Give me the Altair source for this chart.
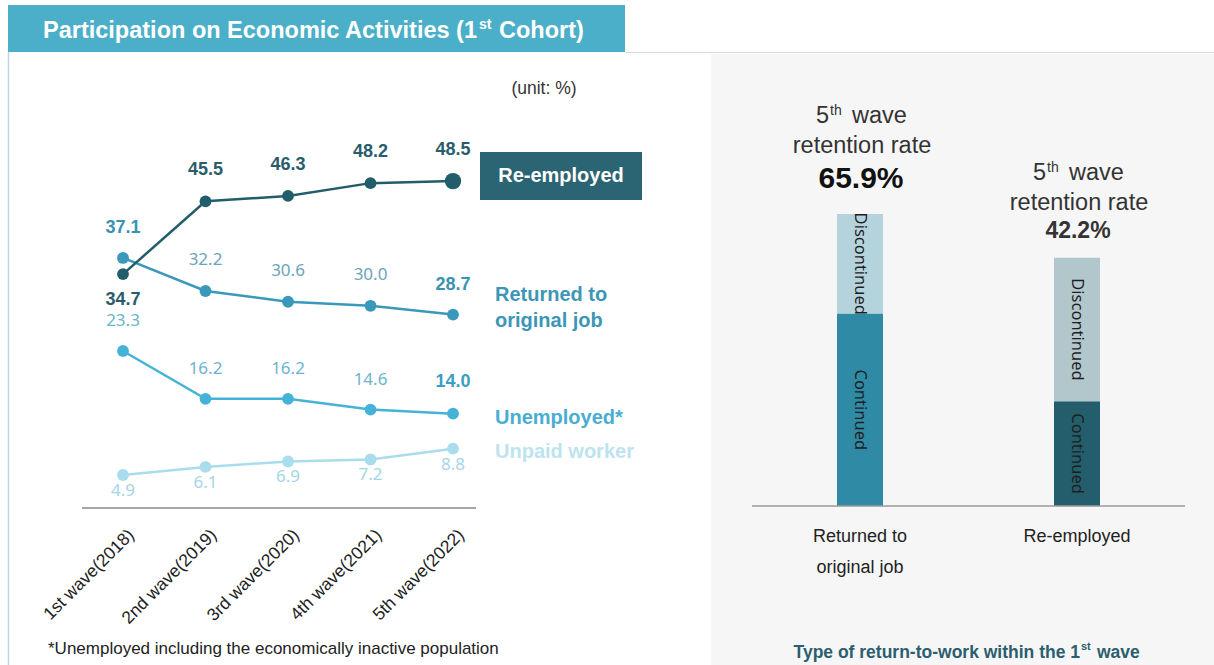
import altair as alt
import pandas as pd

# ---------------- data ----------------
waves = ["1st wave(2018)", "2nd wave(2019)", "3rd wave(2020)", "4th wave(2021)", "5th wave(2022)"]
re_employed = [34.7, 45.5, 46.3, 48.2, 48.5]
returned = [37.1, 32.2, 30.6, 30.0, 28.7]
unemployed = [23.3, 16.2, 16.2, 14.6, 14.0]
unpaid = [4.9, 6.1, 6.9, 7.2, 8.8]

bar_cats = ["Returned to original job", "Re-employed"]
bar_cat_lines = [["Returned to", "original job"], ["Re-employed"]]
continued = [65.9, 35.9]
discontinued = [34.1, 49.1]
retention = ["65.9%", "42.2%"]

# ---------------- tables ----------------
series_names = ["Re-employed", "Returned to original job", "Unemployed*", "Unpaid worker"]
series_vals = [re_employed, returned, unemployed, unpaid]
rows = []
for name, vals in zip(series_names, series_vals):
    for w, v in zip(waves, vals):
        rows.append({"series": name, "wave": w, "value": v})
df_line = pd.DataFrame(rows)

brows = []
for c, cv, dv in zip(bar_cats, continued, discontinued):
    brows.append({"cat": c, "status": "Continued", "value": cv, "ord": 0})
    brows.append({"cat": c, "status": "Discontinued", "value": dv, "ord": 1})
df_bar = pd.DataFrame(brows)
df_cats = pd.DataFrame({"cat": bar_cats, "rate": retention})
df_waves = pd.DataFrame({"wave": waves})
one = pd.DataFrame({"z": [0]})

ARIAL = "Liberation Sans, Arial, sans-serif"
UI = "Noto Sans, Open Sans, sans-serif"


def rect(x, x2, y, y2, color):
    return alt.Chart(one).mark_rect(color=color).encode(
        x=alt.value(x), x2=alt.value(x2), y=alt.value(y), y2=alt.value(y2))


def txt(text, x, y, **kw):
    return alt.Chart(one).mark_text(text=text, **kw).encode(x=alt.value(x), y=alt.value(y))


# ---------------- decorations ----------------
decor = [
    rect(711, 1214, 54, 665, "#F6F6F6"),
    rect(8, 625, 5, 52, "#4BAFC9"),
    alt.Chart(one).mark_rule(color="#D9D9D9", strokeWidth=1).encode(
        x=alt.value(625), x2=alt.value(1214), y=alt.value(52.5)),
    alt.Chart(one).mark_rule(color="#BCD9E3", strokeWidth=1.5).encode(
        x=alt.value(8.5), y=alt.value(52), y2=alt.value(665)),
    txt("Participation on Economic Activities (1", 477, 38, align="right", baseline="alphabetic",
        font=ARIAL, fontSize=23.5, fontWeight="bold", color="white"),
    txt("st", 479, 29, align="left", baseline="alphabetic",
        font=ARIAL, fontSize=14, fontWeight="bold", color="white"),
    txt("Cohort)", 499, 38, align="left", baseline="alphabetic",
        font=ARIAL, fontSize=23.5, fontWeight="bold", color="white"),
    txt("(unit: %)", 544, 94, align="center", baseline="alphabetic",
        font=ARIAL, fontSize=17.5, color="#333333"),
    txt("*Unemployed including the economically inactive population", 48, 654, align="left",
        baseline="alphabetic", font=ARIAL, fontSize=17, color="#222222"),
    rect(480, 642, 152, 200, "#2B6472"),
    txt("Re-employed", 561, 176, align="center", baseline="middle",
        font=ARIAL, fontSize=20, fontWeight="bold", color="white"),
    txt("Type of return-to-work within the 1", 1080, 658, align="right", baseline="alphabetic",
        font=ARIAL, fontSize=17.5, fontWeight="bold", color="#2B5E6E"),
    txt("st", 1081, 650, align="left", baseline="alphabetic",
        font=ARIAL, fontSize=11, fontWeight="bold", color="#2B5E6E"),
    txt("wave", 1097, 658, align="left", baseline="alphabetic",
        font=ARIAL, fontSize=17.5, fontWeight="bold", color="#2B5E6E"),
]

# ---------------- line chart ----------------
XL = alt.Scale(type="point", domain=waves, range=[123, 453], padding=0)
YL = alt.Scale(domain=[0, 50], range=[508, 171], nice=False, zero=False)


def xl():
    return alt.X("wave:N", scale=XL, axis=None)


def yl():
    return alt.Y("value:Q", scale=YL, axis=None)


first = alt.FieldEqualPredicate(field="wave", equal=waves[0])
last = alt.FieldEqualPredicate(field="wave", equal=waves[-1])
middle = alt.FieldOneOfPredicate(field="wave", oneOf=waves[1:-1])
not_first = alt.FieldOneOfPredicate(field="wave", oneOf=waves[1:])
not_last = alt.FieldOneOfPredicate(field="wave", oneOf=waves[:-1])
first_last = alt.FieldOneOfPredicate(field="wave", oneOf=[waves[0], waves[-1]])
all_w = alt.FieldOneOfPredicate(field="wave", oneOf=waves)

styles = {
    "Re-employed": dict(c="#225D6B", bold="#2A5D6B", reg="#2A5D6B",
                        labels=[(first, 26, True), (not_first, -31, True)]),
    "Returned to original job": dict(c="#3A98BA", bold="#3893B2", reg="#6CA4BA",
                                     labels=[(first_last, -30, True), (middle, -31, False)]),
    "Unemployed*": dict(c="#45B3D7", bold="#3C9EC1", reg="#6CB4CD",
                        labels=[(not_last, -30, False), (last, -32, True)]),
    "Unpaid worker": dict(c="#A9DDEE", bold="#A5D6E6", reg="#A5D6E6",
                          labels=[(all_w, 16, False)]),
}

line_layers = [
    alt.Chart(one).mark_rule(color="#8A8A8A", strokeWidth=1.5).encode(
        y=alt.Y("z:Q", scale=YL, axis=None), x=alt.value(82), x2=alt.value(476)),
    alt.Chart(df_waves).mark_text(angle=315, align="right", baseline="middle", dx=12,
                                  font=ARIAL, fontSize=17.5, color="#222222").encode(
        x=xl(), y=alt.value(541), text="wave:N"),
]

for s in series_names[::-1]:
    st = styles[s]
    base = alt.Chart(df_line).transform_filter(alt.datum.series == s)
    line_layers.append(base.mark_line(color=st["c"], strokeWidth=2.5).encode(x=xl(), y=yl()))
    line_layers.append(base.mark_circle(color=st["c"], size=140, opacity=1).encode(x=xl(), y=yl()))
    for pred, dy, is_bold in st["labels"]:
        line_layers.append(
            base.transform_filter(pred).mark_text(
                dy=dy, baseline="middle", align="center",
                font=ARIAL if is_bold else UI, fontSize=18 if is_bold else 17,
                fontWeight="bold" if is_bold else "normal",
                color=st["bold"] if is_bold else st["reg"]).encode(
                x=xl(), y=yl(), text=alt.Text("value:Q", format=".1f")))

# bigger last point of Re-employed
line_layers.append(
    alt.Chart(df_line).transform_filter(alt.datum.series == "Re-employed").transform_filter(last)
    .mark_circle(color=styles["Re-employed"]["c"], size=270, opacity=1).encode(x=xl(), y=yl()))

# series labels at the right end
end_labels = [
    ("Returned to original job", ["Returned to", "original job"], -20, "#3C96B6"),
    ("Unemployed*", "Unemployed*", 4, "#48AED0"),
    ("Unpaid worker", "Unpaid worker", 3, "#BDE3EF"),
]
for s, label, dy, col in end_labels:
    line_layers.append(
        alt.Chart(df_line).transform_filter(alt.datum.series == s).transform_filter(last)
        .mark_text(text=label, align="left", baseline="middle", dx=42, dy=dy, lineHeight=26,
                   font=ARIAL, fontSize=20, fontWeight="bold", color=col)
        .encode(x=xl(), y=yl()))

line_group = alt.layer(*line_layers)

# ---------------- bar chart ----------------
XB = alt.Scale(type="point", domain=bar_cats, range=[860, 1077], padding=0)
YB = alt.Scale(domain=[0, 100], range=[506, 214], nice=False)
color_keys = [f"{bar_cats[0]}|Continued", f"{bar_cats[0]}|Discontinued",
              f"{bar_cats[1]}|Continued", f"{bar_cats[1]}|Discontinued"]
color_vals = ["#2E8AA5", "#B5D3DC", "#245E6C", "#B2C7CC"]


def xb():
    return alt.X("cat:N", scale=XB, axis=None)


stacked = (alt.Chart(df_bar)
           .transform_calculate(key="datum.cat + '|' + datum.status")
           .transform_stack(as_=["y0", "y1"], stack="value", groupby=["cat"],
                            sort=[alt.SortField("ord", order="ascending")])
           .transform_calculate(mid="(datum.y0 + datum.y1) / 2"))

bar_layers = [
    stacked.mark_bar(size=46).encode(
        x=xb(), y=alt.Y("y0:Q", scale=YB, axis=None), y2="y1:Q",
        color=alt.Color("key:N", scale=alt.Scale(domain=color_keys, range=color_vals), legend=None)),
    stacked.mark_text(angle=90, align="center", baseline="middle", font=UI, fontSize=16.5,
                      color="#1E1E1E").encode(
        x=xb(), y=alt.Y("mid:Q", scale=YB, axis=None), text="status:N"),
    alt.Chart(one).mark_rule(color="#9A9A9A", strokeWidth=1.5).encode(
        y=alt.Y("z:Q", scale=YB, axis=None), x=alt.value(752), x2=alt.value(1185)),
]

ann_pos = [(123, 153, 188, 30, "#111111"), (180, 210, 238, 23, "#333333")]
for i, cat in enumerate(bar_cats):
    y1, y2, y3, fs, col = ann_pos[i]
    b = alt.Chart(df_cats).transform_filter(alt.datum.cat == cat)
    bar_layers += [
        b.mark_text(text="5", align="right", baseline="alphabetic", dx=-31,
                    font=ARIAL, fontSize=23.5, color="#333333").encode(x=xb(), y=alt.value(y1)),
        b.mark_text(text="th", align="left", baseline="alphabetic", dx=-30,
                    font=ARIAL, fontSize=14, color="#333333").encode(x=xb(), y=alt.value(y1 - 8)),
        b.mark_text(text="wave", align="left", baseline="alphabetic", dx=-8,
                    font=ARIAL, fontSize=23.5, color="#333333").encode(x=xb(), y=alt.value(y1)),
        b.mark_text(text="retention rate", align="center", baseline="alphabetic", dx=2,
                    font=ARIAL, fontSize=23.5, color="#333333").encode(x=xb(), y=alt.value(y2)),
        b.mark_text(align="center", baseline="alphabetic", dx=1, font=ARIAL, fontSize=fs,
                    fontWeight="bold", color=col).encode(x=xb(), y=alt.value(y3), text="rate:N"),
        b.mark_text(text=bar_cat_lines[i], align="center", baseline="alphabetic", lineHeight=31,
                    font=ARIAL, fontSize=18, color="#222222").encode(x=xb(), y=alt.value(542)),
    ]

bar_group = alt.layer(*bar_layers)

chart = (alt.layer(*decor, line_group, bar_group)
         .resolve_scale(x="independent", y="independent", color="independent")
         .properties(width=1214, height=665, padding=0,
                     autosize=alt.AutoSizeParams(type="none"), background="white")
         .configure_view(stroke=None))

chart.save("out.html", embed_options={"renderer": "svg", "actions": False})
